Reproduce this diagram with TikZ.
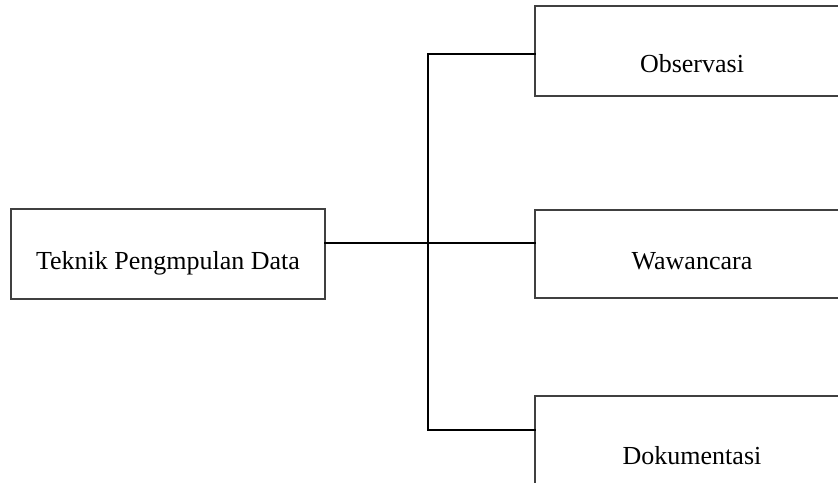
\documentclass[tikz,border=0pt]{standalone}
\usepackage{fontspec}
\setmainfont{Liberation Serif}
\begin{document}
\begin{tikzpicture}[x=1pt,y=-1pt,
  box/.style={draw=black!75, line width=1.2pt, rectangle, inner sep=0pt,
    font=\fontsize{26}{30}\selectfont, text height=31pt, text depth=0pt},
  conn/.style={draw=black, line width=2.8pt, line cap=rect}]
\useasboundingbox (0,0) rectangle (838,482);
\begin{scope}
\clip (0,0) rectangle (838,482);
\node[box, minimum width=314pt, minimum height=90pt] (src) at (168,254) {Teknik Pengmpulan Data};
\node[box, minimum width=314pt, minimum height=90pt, text height=43pt] (obs) at (692,51) {Observasi};
\node[box, minimum width=314pt, minimum height=88pt] (waw) at (692,254) {Wawancara};
\node[box, minimum width=314pt, minimum height=90pt, text height=47pt] (dok) at (692,441) {Dokumentasi};
\coordinate (j) at (428,243);
\coordinate (jt) at (428,54);
\coordinate (jb) at (428,430);
\draw[conn] (src.east |- j) -- (waw.west |- j);
\draw[conn] (obs.west |- jt) -- (jt) -- (jb) -- (dok.west |- jb);
\end{scope}
\end{tikzpicture}
\end{document}
